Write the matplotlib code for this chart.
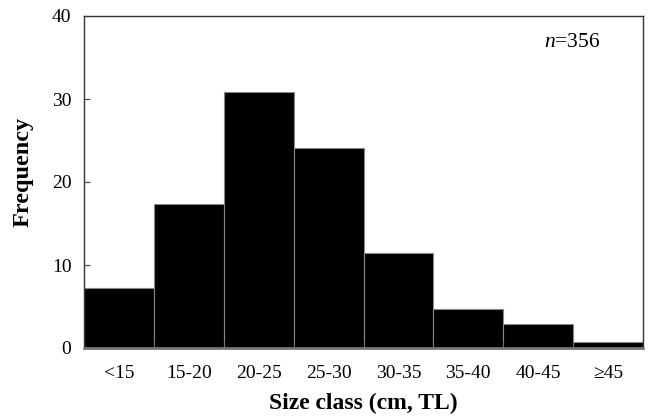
import matplotlib
matplotlib.use("Agg")
import matplotlib.pyplot as plt
import numpy as np

size_classes = ["<15", "15-20", "20-25", "25-30", "30-35", "35-40", "40-45", "≥45"]
frequency = [7.2, 17.4, 30.9, 24.1, 11.5, 4.7, 2.9, 0.7]
n_total = 356

plt.rcParams['font.family'] = ['Liberation Serif', 'DejaVu Serif']
plt.rcParams['mathtext.fontset'] = 'custom'
plt.rcParams['mathtext.it'] = 'Liberation Serif:italic'
plt.rcParams['mathtext.rm'] = 'Liberation Serif'

fig = plt.figure(figsize=(6.48, 4.16), dpi=100)
ax = fig.add_axes([84/648, 1 - 348/416, (643-84)/648, (348-16)/416])

x = np.arange(len(size_classes))
ax.bar(x, frequency, width=1.0, color='black', edgecolor='#888888', linewidth=0.8)

ax.set_xlim(-0.5, len(size_classes) - 0.5)
ax.set_ylim(0, 40)
ax.set_yticks([0, 10, 20, 30, 40])
ax.set_xticks(x)
ax.set_xticklabels(size_classes)
# ticks between categories on x
ax.set_xticks(np.arange(len(size_classes) + 1) - 0.5, minor=True)
ax.tick_params(axis='x', which='major', length=0, pad=12, labelsize=14)
ax.tick_params(axis='x', which='minor', direction='in', length=4, color='#666666')
ax.tick_params(axis='y', direction='in', length=4, labelsize=14, pad=9, color='#444444')

for s in ['left', 'top', 'right']:
    ax.spines[s].set_color('#333333')
    ax.spines[s].set_linewidth(1.0)
ax.spines['bottom'].set_color('#777777')
ax.spines['bottom'].set_linewidth(2.0)

ax.set_ylabel("Frequency", fontsize=17.5, fontweight='bold')
ax.yaxis.set_label_coords(-0.09, 0.53)
ax.set_xlabel("Size class (cm, TL)", fontsize=17, fontweight='bold', labelpad=8)

ax.text(0.873, 0.92, r"$n$=" + str(n_total), transform=ax.transAxes,
        fontsize=15.5, ha='center', va='center')

fig.savefig("out.png", dpi=100)
